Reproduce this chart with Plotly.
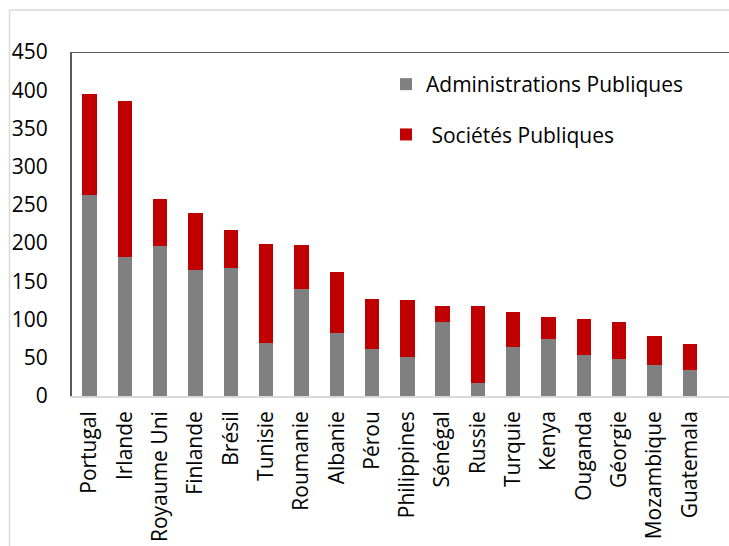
import plotly.graph_objects as go

countries = ["Portugal", "Irlande", "Royaume Uni", "Finlande", "Brésil", "Tunisie",
             "Roumanie", "Albanie", "Pérou", "Philippines", "Sénégal", "Russie",
             "Turquie", "Kenya", "Ouganda", "Géorgie", "Mozambique", "Guatemala"]
admin_pub = [263, 182, 196, 165, 168, 69, 140, 83, 61, 51, 97, 17, 64, 75, 54, 49, 41, 34]
totals = [395, 386, 258, 240, 217, 199, 198, 162, 127, 126, 118, 118, 110, 103, 101, 97, 78, 68]
societes_pub = [t - a for t, a in zip(totals, admin_pub)]

W, H = 729, 546
L, R, T, B = 72, 0, 52, 150
pw, ph = W - L - R, H - T - B

def px(x):
    return (x - L) / pw

def py(y):
    return (H - B - y) / ph

FONT = "Open Sans"
FS = 21

fig = go.Figure()
fig.add_trace(go.Bar(x=countries, y=admin_pub, name="Administrations Publiques",
                     marker=dict(color="#808080", line=dict(width=0)),
                     legendgroup="a"))
fig.add_trace(go.Bar(x=countries, y=societes_pub, name="\u00a0Sociétés Publiques",
                     marker=dict(color="#C00000", line=dict(width=0)),
                     legendgroup="b"))

step = 35.3
span = pw / step

fig.update_layout(
    width=W, height=H,
    margin=dict(l=L, r=R, t=T, b=B, pad=0),
    barmode="stack",
    bargap=0.59,
    plot_bgcolor="white", paper_bgcolor="white",
    font=dict(family=FONT, size=FS, color="black"),
    showlegend=True,
    legend=dict(x=px(386), y=py(64), xanchor="left", yanchor="top",
                bgcolor="rgba(0,0,0,0)", font=dict(size=FS, family=FONT),
                tracegroupgap=20, traceorder="grouped"),
    xaxis=dict(range=[-0.5, -0.5 + span], tickangle=-90, showgrid=False,
               showline=True, linecolor="#d9d9d9", linewidth=1.5,
               ticks="", tickfont=dict(size=FS, family=FONT), ticklabelstandoff=5),
    yaxis=dict(range=[0, 450], tickvals=[0, 50, 100, 150, 200, 250, 300, 350, 400, 450],
               showgrid=False, zeroline=False, showline=True, linecolor="#595959",
               linewidth=2, ticks="", tickfont=dict(size=FS, family=FONT),
               ticklabelstandoff=18),
    shapes=[
        dict(type="line", xref="paper", yref="y", x0=0, x1=1, y0=450, y1=450,
             line=dict(color="#595959", width=2)),
        dict(type="line", xref="paper", yref="paper", x0=px(9.5), x1=px(9.5),
             y0=py(10), y1=py(546), line=dict(color="#d9d9d9", width=1.5)),
        dict(type="line", xref="paper", yref="paper", x0=px(9.5), x1=px(729),
             y0=py(10), y1=py(10), line=dict(color="#d9d9d9", width=1.5)),
    ],
)

fig.write_html("out.html")
